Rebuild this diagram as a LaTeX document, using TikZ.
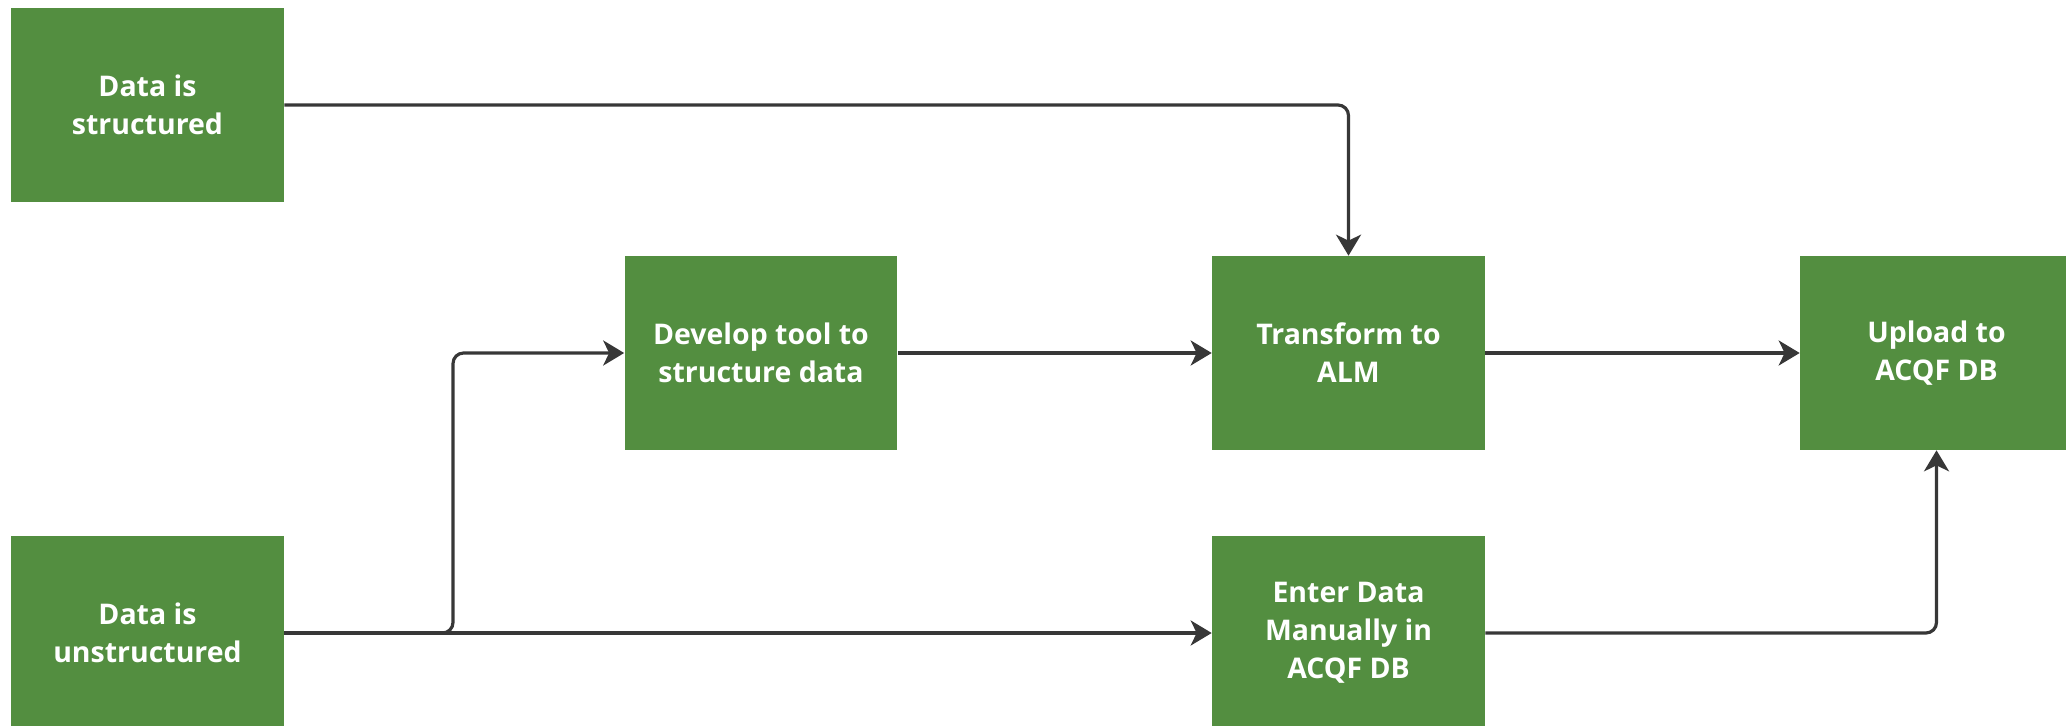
\documentclass[tikz,border=0pt]{standalone}
\usepackage{fontspec}
\setmainfont{Open Sans}
\usetikzlibrary{arrows.meta}

\definecolor{stepgreen}{RGB}{83,142,64}
\definecolor{linegray}{RGB}{55,55,55}

\tikzset{
    stepbox/.style={rectangle, fill=stepgreen, text=white, align=center,
        minimum width=5.46cm, minimum height=3.88cm, inner sep=0pt,
        font=\fontsize{16.2}{21.6}\selectfont\bfseries},
    conn/.style={draw=linegray, line width=1.8pt, rounded corners=6pt,
        -{Stealth[length=0.42cm,width=0.5cm,inset=0.12cm]}}
}

\begin{document}
\begin{tikzpicture}[x=0.02cm,y=-0.02cm]
    \useasboundingbox (0,0) rectangle (2066,726);
    \clip (0,0) rectangle (2066,726);

    \node[stepbox] (structured) at (147.5,105) {Data is\\structured};
    \node[stepbox] (unstructured) at (147.5,633) {Data is\\unstructured};
    \node[stepbox] (develop) at (761,353) {Develop tool to\\structure data};
    \node[stepbox] (transform) at (1348.5,353) {Transform to\\ALM};
    \node[stepbox] (upload) at (1936.5,353) {Upload to\\ACQF DB};
    \node[stepbox] (enter) at (1348.5,633) {Enter Data\\Manually in\\ACQF DB};

    \coordinate (branch) at (453,353);

    \draw[conn] (structured.east) -| (transform.north);
    \draw[conn] (unstructured.east) -- (enter.west);
    \draw[conn] (unstructured.east) -| (branch) -- (develop.west);
    \draw[conn] (develop.east) -- (transform.west);
    \draw[conn] (transform.east) -- (upload.west);
    \draw[conn] (enter.east) -| (upload.south);
\end{tikzpicture}
\end{document}
